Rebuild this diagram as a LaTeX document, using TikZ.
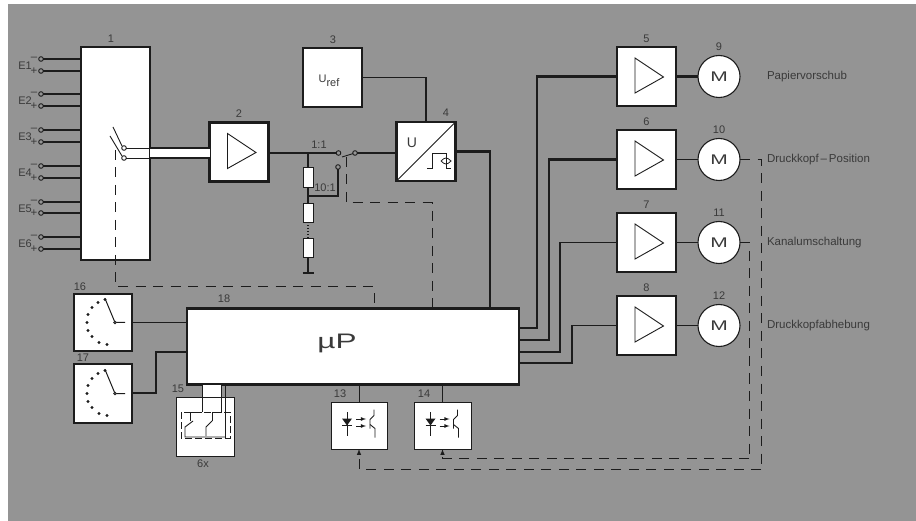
\documentclass[tikz,border=0pt]{standalone}
\usepackage{fontspec}
\setmainfont{Liberation Sans}
\usepackage{tikz}
\usetikzlibrary{arrows, positioning, calc, shapes}
\definecolor{ink}{HTML}{1C1C1C}
\definecolor{paper}{HTML}{949494}
\definecolor{soft}{HTML}{3A3A3A}
\newcommand{\widetext}[2]{\scalebox{#1}[1]{#2}}
\tikzset{
	box/.style={draw, fill=white, rectangle, line width=2.2pt, outer sep=0pt, inner sep=0pt},
	ampbox/.style={box, minimum size=59pt},
	thinbox/.style={box, line width=1pt},
	motor/.style={draw, fill=white, circle, line width=1.1pt, outer sep=0pt, inner sep=0pt, minimum size=42pt, text=soft, font=\fontsize{14}{16}\selectfont},
	port/.style={draw, fill=paper, circle, line width=0.9pt, outer sep=0pt, inner sep=0pt, minimum size=4.6pt},
	resistor/.style={draw, fill=white, rectangle, line width=0.9pt, outer sep=0pt, inner sep=0pt, minimum width=10pt},
	txt/.style={inner sep=0pt, outer sep=0pt, text=soft, font=\fontsize{11.5}{13}\selectfont},
	tag/.style={txt, font=\fontsize{11}{13}\selectfont},
	wire/.style={line width=1.1pt},
	heavy/.style={line width=2.3pt},
	dashline/.style={line width=1pt, dash pattern=on 10pt off 7.5pt},
}
\begin{document}
\begin{tikzpicture}[x=1pt, y=-1pt, color=ink, node distance=24pt and 22pt, >=latex]
	\useasboundingbox (0,0) rectangle (916,521);
	\fill[white] (0,0) rectangle (916,521);
	\fill[paper] (8,4) rectangle (916,521);

	\node[box, minimum width=69pt, minimum height=213pt] (sel) at (115.5,153.5) {};
	\node[ampbox] (amp2) at (239,152) {};
	\node[box, minimum size=59pt] (uref) at (332.5,77.5) {};
	\node[box, minimum size=59pt] (adc) at (426,151.5) {};
	\node[box, minimum width=332pt, minimum height=76pt] (mup) at (353,346.5) {};
	\node[box, minimum width=58pt, minimum height=57pt] (dial16) at (103,322.5) {};
	\node[box, minimum width=58pt, minimum height=59pt] (dial17) at (103,393.5) {};
	\node[thinbox, minimum width=58pt, minimum height=59pt] (key15) at (205,426.5) {};
	\node[thinbox, minimum width=56pt, minimum height=47pt] (opt13) at (359,425.5) {};
	\node[thinbox, minimum width=57pt, minimum height=47pt] (opt14) at (442.5,425.5) {};

	\node[ampbox] (amp5) at (646.5,76.5) {};
	\node[ampbox, below =of amp5] (amp6) {};
	\node[ampbox, below =of amp6] (amp7) {};
	\node[ampbox, below =of amp7] (amp8) {};
	\node[motor, right =of amp5] (mot9) {\widetext{1.5}{M}};
	\node[motor, right =of amp6] (mot10) {\widetext{1.5}{M}};
	\node[motor, right =of amp7] (mot11) {\widetext{1.5}{M}};
	\node[motor, right =of amp8] (mot12) {\widetext{1.5}{M}};

	\node[tag, above =4.5pt of amp5] (n5) {5};
	\node[tag, above =4.5pt of amp6] (n6) {6};
	\node[tag, above =4.5pt of amp7] (n7) {7};
	\node[tag, above =4.5pt of amp8] (n8) {8};
	\node[tag, above =4.5pt of mot9] (n9) {9};
	\node[tag, above =4.5pt of mot10] (n10) {10};
	\node[tag, above =4.5pt of mot11] (n11) {11};
	\node[tag, above =4.5pt of mot12] (n12) {12};
	\node[tag] (n1) at (111,39) {1};
	\node[tag] (n2) at (239,114) {2};
	\node[tag] (n3) at (333,40) {3};
	\node[tag] (n4) at (446,113) {4};
	\node[tag] (n13) at (340,394) {13};
	\node[tag] (n14) at (424,394) {14};
	\node[tag] (n15) at (178,389) {15};
	\node[tag] (n16) at (80,287) {16};
	\node[tag] (n17) at (83,358) {17};
	\node[tag] (n18) at (224,299) {18};
	\node[tag] (n6x) at (203,464) {6x};

	\node[txt, right =27pt of mot9] (papier) {Papiervorschub};
	\node[txt, right =27pt of mot10] (position) {Druckkopf\,--\,Position};
	\node[txt, right =27pt of mot11] (kanal) {Kanalumschaltung};
	\node[txt, right =27pt of mot12] (hebung) {Druckkopfabhebung};

	\node[txt, font=\fontsize{11}{13}\selectfont] (reftext) at (329,81) {U\raisebox{-4pt}{ref}};
	\node[txt, font=\fontsize{14}{16}\selectfont] (utext) at (412,143) {U};
	\node[txt, font=\fontsize{21}{24}\selectfont] (mutext) at (337,343) {\widetext{1.5}{µP}};
	\node[tag] (ratio1) at (319,145) {1:1};
	\node[tag] (ratio10) at (325,188) {10:1};

	\foreach \i/\ya/\yb in {1/59/71,2/94/106,3/130/142,4/166/178,5/202/213,6/237/249} {
		\node[port] (pm\i) at (41,\ya) {};
		\node[port] (pp\i) at (41,\yb) {};
		\draw[wire] (pm\i) -- (sel.west |- pm\i);
		\draw[wire] (pp\i) -- (sel.west |- pp\i);
		\node[txt] (sm\i) at (34,\ya) {--};
		\node[txt] (sp\i) at (34,\yb) {+};
		\node[tag] (e\i) at (25,{(\ya+\yb)/2+1}) {E\i};
	}

	\foreach \amp in {amp2,amp5,amp6,amp7,amp8}
		\draw[line width=0.9pt, line join=miter] ([shift={(-11.5,-18.5)}]\amp.center) -- ([shift={(-11.5,16.5)}]\amp.center) -- ([shift={(17,0.5)}]\amp.center) -- cycle;

	\fill[white] (sel.east |- 0,148) rectangle (amp2.west |- 0,158);
	\node[port, fill=white] (cta) at (124,148) {};
	\node[port, fill=white] (ctb) at (124,158) {};
	\draw[line width=0.9pt] (113,127) -- (122,146);
	\draw[line width=0.9pt] (110,136) -- (122,156);
	\foreach \ct in {cta,ctb} {
		\draw[line width=0.8pt] (\ct) -- (sel.east |- \ct);
		\draw[line width=1.4pt] (sel.east |- \ct) -- (amp2.west |- \ct);
	}

	\coordinate (tap1) at (308,153);
	\coordinate (tap2) at (308,196);
	\coordinate (gnd) at (308,273);
	\node[resistor, minimum height=20pt] (r1) at (308,177) {};
	\node[resistor, minimum height=19pt] (r2) at (308,212.5) {};
	\node[resistor, minimum height=19pt] (r3) at (308,247.5) {};
	\node[port] (swa) at (338.5,153) {};
	\node[port] (swb) at (355,153) {};
	\node[port] (swc) at (338,167) {};
	\draw[wire] (amp2.east |- swa) -- (swa);
	\draw[wire] (swb) -- (adc.west |- swb);
	\draw[line width=0.9pt] (swb) -- (342,157);
	\draw[wire] (tap1) -- (r1);
	\draw[wire] (r1) -- (r2);
	\draw[wire, dotted] (r2) -- (r3);
	\draw[wire] (r3) -- (gnd);
	\draw[wire] ($(gnd)+(-5.5,0)$) -- ($(gnd)+(5.5,0)$);
	\draw[wire] (tap2) -| (swc);

	\draw[line width=1.2pt] (uref.east) -| (adc.north);
	\coordinate (adcout) at (490,308);
	\draw[heavy] (adc.east) -| (adcout);
	\draw[line width=0.9pt] (adc.south west) -- (adc.north east);
	\draw[line width=1pt] (427,169) -- (432,169) -- (432,154) -- (446,154) -- (446,169) -- (451,169);
	\draw[line width=0.8pt] (441,161) .. controls (445,165) and (447,165) .. (451,161) .. controls (447,157) and (445,157) .. (441,161);

	\coordinate (sw1) at (115,150);
	\coordinate (bus1) at (374,287);
	\coordinate (swl) at (346,157);
	\coordinate (bus4) at (432,203);
	\draw[dashline] (sw1) |- (bus1) -- (mup.north -| bus1);
	\draw[dashline] (swl) |- (bus4) -- (mup.north -| bus4);

	\foreach \dial in {dial16,dial17} {
		\begin{scope}[shift={(\dial.center)}]
			\foreach \dx/\dy in {-10/-23,-17/-20,-23/-15,-27/-8,-28/0,-27/8,-23/14,-16/20,-8/22}
				\fill ($(12,0)+(\dx,\dy)$) circle (1.6pt);
			\draw[line width=1pt] (2,-24) -- (12,0) -- (22,0);
			\draw[line width=0.8pt, fill=white] (12,0) circle (1.3pt);
		\end{scope}
	}
	\draw[line width=1.2pt] (dial16.east) -- (mup.west |- dial16.east);
	\coordinate (dialin) at (187,352);
	\draw[line width=1.3pt] (dial17.east |- 0,393) -- (156,393) |- (dialin);

	\fill[white] (203,385) rectangle (221,397);
	\draw[line width=0.9pt] (mup.south -| 202,0) -- (202,412);
	\draw[line width=0.9pt] (mup.south -| 221,0) -- (221,412) -- (212,412) -- (212,421);
	\draw[line width=0.9pt] (mup.south -| 225,0) -- (225,438);
	\draw[line width=0.9pt] (202,412) -- (190,412) -- (190,421);
	\draw[line width=0.9pt, dash pattern=on 7pt off 3pt] (181,412) rectangle (230,438);
	\draw[line width=0.9pt] (193,421) -- (185,427) -- (185,437) -- (225,437);
	\draw[line width=0.9pt] (212,421) -- (206,427) -- (206,436);

	\foreach \opt in {opt13,opt14} {
		\begin{scope}[shift={(\opt.center)}]
			\draw[line width=0.9pt] (-12,-13.5) -- (-12,10);
			\draw[line width=0.9pt] (-17,0) -- (-7,0);
			\fill (-17,-7) -- (-7,-7) -- (-12,0) -- cycle;
			\draw[->, line width=0.8pt] (-3,-6.5) -- (7,-6.5);
			\draw[->, line width=0.8pt] (-3,0.5) -- (7,0.5);
			\draw[line width=0.9pt] (15,-16) -- (15,-10) -- (11,-6) -- (11,3);
			\draw[line width=0.9pt] (11,-1) -- (16,3) -- (16,12);
		\end{scope}
	}
	\draw[line width=1pt] (mup.south -| opt13) -- (opt13.north);
	\draw[line width=1pt] (mup.south -| opt14) -- (opt14.north);

	\coordinate (bus10) at (761,469);
	\coordinate (bus11) at (749,458);
	\draw[dashline] (mot10.east) -| (bus10);
	\draw[dashline, ->] (bus10) -| (opt13.south);
	\draw[dashline] (mot11.east) -| (bus11);
	\draw[dashline, ->] (bus11) -| (opt14.south);

	\foreach \from/\to/\wd in {amp5/mot9/2.3pt,amp6/mot10/1.2pt,amp7/mot11/1.2pt,amp8/mot12/1.4pt}
		\draw[line width=\wd] (\from) -- (\to);

	\coordinate (outa) at (519,328);
	\coordinate (outb) at (519,340);
	\coordinate (outc) at (519,352);
	\coordinate (outd) at (519,363);
	\draw[heavy] (outa) -- ++(18,0) |- (amp5.west);
	\draw[heavy] (outb) -- ++(30,0) |- (amp6.west);
	\draw[line width=1.6pt] (outc) -- ++(41,0) |- (amp7.west);
	\draw[line width=1.6pt] (outd) -- ++(53,0) |- (amp8.west);
\end{tikzpicture}
\end{document}
